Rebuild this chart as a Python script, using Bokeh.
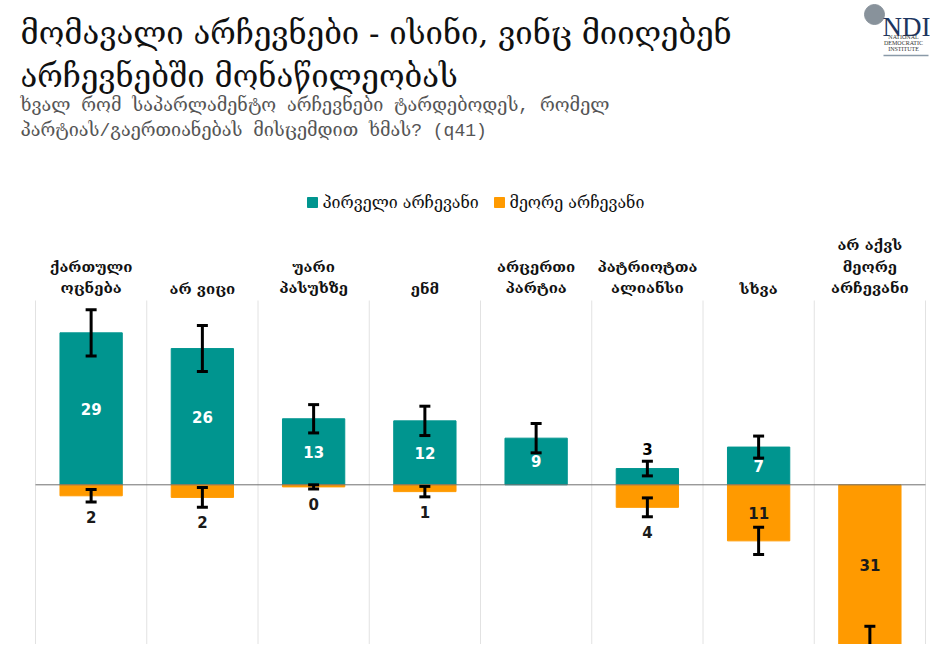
import math
from bokeh.plotting import figure
from bokeh.models import Range1d, ColumnDataSource, Whisker, TeeHead
from bokeh.core.properties import value
from bokeh.embed import file_html
from bokeh.resources import INLINE

# ---------------- data ----------------
categories = ["ქართული\nოცნება", "არ ვიცი", "უარი\nპასუხზე", "ენმ",
              "არცერთი\nპარტია", "პატრიოტთა\nალიანსი", "სხვა",
              "არ აქვს\nმეორე\nარჩევანი"]
first_choice = [29.0, 26.0, 12.6, 12.2, 8.9, 3.1, 7.2, float("nan")]
first_err = [4.4, 4.4, 2.7, 2.8, 2.8, 1.4, 2.1, float("nan")]
second_choice = [2.1, 2.4, 0.4, 1.3, float("nan"), 4.3, 10.7, 30.6]
second_err = [1.2, 1.9, 0.4, 1.0, float("nan"), 1.8, 2.6, 3.6]
series_names = ["პირველი არჩევანი", "მეორე არჩევანი"]

title_lines = ["მომავალი არჩევნები - ისინი, ვინც მიიღებენ",
               "არჩევნებში მონაწილეობას"]
subtitle_lines = ["ხვალ რომ საპარლამენტო არჩევნები ტარდებოდეს, რომელ",
                  "პარტიას/გაერთიანებას მისცემდით ხმას? (q41)"]

TEAL = "#00958f"
ORANGE = "#ff9a00"
GEO = "DejaVu Serif"

W, H = 930, 644
PX_PER_UNIT = 5.24
ZERO_Y = 484.3           # canvas px of zero line
LEFT, RIGHT = 35, 925    # canvas px of category area
n = len(categories)
cat_w = (RIGHT - LEFT) / n

x_start = -LEFT / cat_w
x_end = n + (W - RIGHT) / cat_w
y_end = ZERO_Y / PX_PER_UNIT
y_start = -(H - ZERO_Y) / PX_PER_UNIT

p = figure(width=W, height=H, output_backend="svg", toolbar_location=None,
           x_range=Range1d(x_start, x_end), y_range=Range1d(y_start, y_end),
           x_axis_location=None, y_axis_location=None, min_border=0)
p.outline_line_color = None
p.grid.visible = False
p.extra_x_ranges = {"px": Range1d(0, W)}
p.extra_y_ranges = {"py": Range1d(H, 0)}

# vertical separators
bounds = list(range(n + 1))
p.segment(x0=bounds, x1=bounds, y0=[300] * len(bounds), y1=[H] * len(bounds),
          y_range_name="py", line_color="#e2e2e2", line_width=1)

xs = [i + 0.5 for i in range(n)]

src1 = ColumnDataSource(dict(
    x=[x for x, v in zip(xs, first_choice) if not math.isnan(v)],
    top=[v for v in first_choice if not math.isnan(v)],
    lo=[v - e for v, e in zip(first_choice, first_err) if not math.isnan(v)],
    hi=[v + e for v, e in zip(first_choice, first_err) if not math.isnan(v)],
))
src2 = ColumnDataSource(dict(
    x=[x for x, v in zip(xs, second_choice) if not math.isnan(v)],
    top=[-v for v in second_choice if not math.isnan(v)],
    lo=[-v - e for v, e in zip(second_choice, second_err) if not math.isnan(v)],
    hi=[-v + e for v, e in zip(second_choice, second_err) if not math.isnan(v)],
))

p.vbar(x="x", top="top", bottom=0, width=0.56, source=src1, color=TEAL)
p.vbar(x="x", top="top", bottom=0, width=0.56, source=src2, color=ORANGE)

# zero line
p.segment(x0=[0], x1=[n], y0=[0], y1=[0], line_color="#707070", line_width=1)

for src in (src1, src2):
    w = Whisker(source=src, base="x", lower="lo", upper="hi",
                line_color="black", line_width=3, level="annotation",
                upper_head=TeeHead(size=11, line_width=3, line_color="black"),
                lower_head=TeeHead(size=11, line_width=3, line_color="black"))
    p.add_layout(w)

# value labels
lx, ly, lt, lc = [], [], [], []
for x, v, e in zip(xs, first_choice, first_err):
    if math.isnan(v):
        continue
    lx.append(x); lt.append(f"{v:.0f}")
    if v >= 5:
        ly.append(v / 2); lc.append("white")
    else:
        ly.append(v + e + 12 / PX_PER_UNIT); lc.append("black")
for x, v, e in zip(xs, second_choice, second_err):
    if math.isnan(v):
        continue
    lx.append(x); lt.append(f"{v:.0f}")
    if v >= 5:
        ly.append(-v / 2); lc.append("#1a1a1a")
    else:
        ly.append(-(v + e) - 15 / PX_PER_UNIT); lc.append("#1a1a1a")
p.text(x=lx, y=ly, text=lt, text_color=lc, text_align="center",
       text_baseline="middle", text_font=value("DejaVu Sans"),
       text_font_size="15px", text_font_style="bold")

# category labels
p.text(x=xs, y=[297] * n, y_range_name="py", text=categories,
       text_align="center", text_baseline="bottom", text_font=value(GEO),
       text_font_size="15px", text_font_style="bold", text_color="#111111",
       text_line_height=1.22)

# title & subtitle
p.text(x=[20, 20], y=[32, 75], x_range_name="px", y_range_name="py",
       text=title_lines, text_baseline="middle", text_font=value(GEO),
       text_font_size="31px", text_color="#111111")
p.text(x=[20, 20], y=[105, 130], x_range_name="px", y_range_name="py",
       text=subtitle_lines, text_baseline="middle",
       text_font=value("Liberation Mono, DejaVu Serif"), text_font_size="18px",
       text_color="#555555")

# legend
p.scatter(x=[312, 499], y=[202, 202], x_range_name="px", y_range_name="py",
          marker="square", size=10, color=[TEAL, ORANGE])
p.text(x=[322, 509], y=[202, 202], x_range_name="px", y_range_name="py",
       text=series_names, text_baseline="middle", text_font=value(GEO),
       text_font_size="16px", text_color="#111111")

# NDI logo
p.scatter(x=[874], y=[14], x_range_name="px", y_range_name="py",
          marker="circle", size=20, color="#88929b")
p.text(x=[930], y=[26], x_range_name="px", y_range_name="py", text=["NDI"],
       text_align="right", text_baseline="alphabetic",
       text_font=value("Liberation Serif"), text_font_size="27px",
       text_color="#1c3560")
p.text(x=[903, 903, 903], y=[36, 42, 48], x_range_name="px", y_range_name="py",
       text=["NATIONAL", "DEMOCRATIC", "INSTITUTE"], text_align="center",
       text_baseline="middle", text_font=value("Liberation Serif"),
       text_font_size="6px", text_color="#333333")
p.segment(x0=[883], x1=[928], y0=[55], y1=[55], x_range_name="px",
          y_range_name="py", line_color="#8a9aa8", line_width=1.5)

open("out.html", "w").write(file_html(p, INLINE))
